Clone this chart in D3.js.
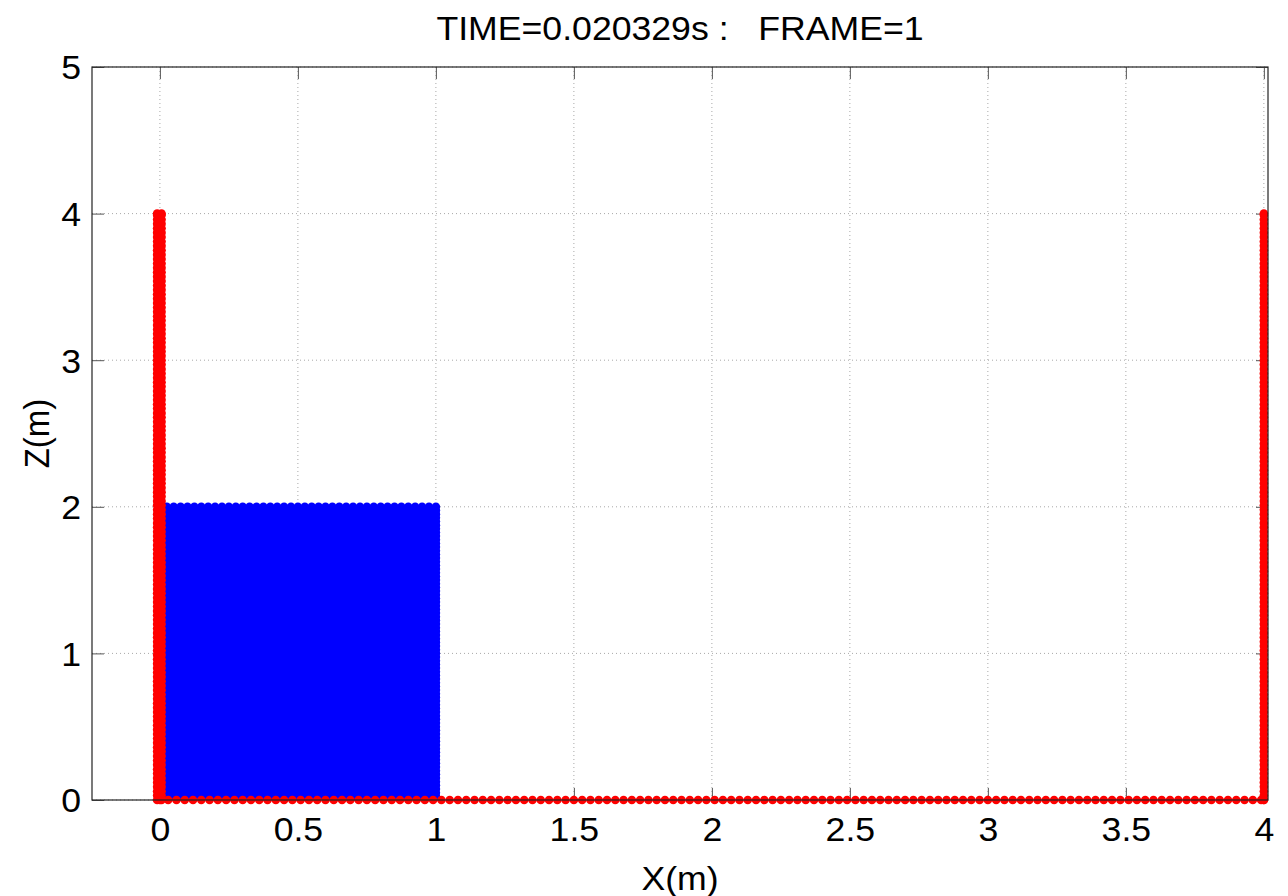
<!DOCTYPE html>
<html>
<head>
<meta charset="utf-8">
<script src="https://cdn.jsdelivr.net/npm/d3@7"></script>
<style>
  body { margin: 0; background: #fff; }
  svg { font-family: "Liberation Sans", Arial, sans-serif; }
  .tick text { font-size: 33px; fill: #000; }
  .tick line { stroke: #555; }
</style>
</head>
<body>
<div id="chart-area"></div>
<script>
// particle lattice (metres)
const fluidX = [0.025, 0.05, 0.075, 0.1, 0.125, 0.15, 0.175, 0.2, 0.225, 0.25, 0.275, 0.3, 0.325, 0.35, 0.375, 0.4,
  0.425, 0.45, 0.475, 0.5, 0.525, 0.55, 0.575, 0.6, 0.625, 0.65, 0.675, 0.7, 0.725, 0.75, 0.775, 0.8, 0.825, 0.85,
  0.875, 0.9, 0.925, 0.95, 0.975, 1.0];
const fluidZ = [0.025, 0.05, 0.075, 0.1, 0.125, 0.15, 0.175, 0.2, 0.225, 0.25, 0.275, 0.3, 0.325, 0.35, 0.375, 0.4,
  0.425, 0.45, 0.475, 0.5, 0.525, 0.55, 0.575, 0.6, 0.625, 0.65, 0.675, 0.7, 0.725, 0.75, 0.775, 0.8, 0.825, 0.85,
  0.875, 0.9, 0.925, 0.95, 0.975, 1.0, 1.025, 1.05, 1.075, 1.1, 1.125, 1.15, 1.175, 1.2, 1.225, 1.25, 1.275, 1.3,
  1.325, 1.35, 1.375, 1.4, 1.425, 1.45, 1.475, 1.5, 1.525, 1.55, 1.575, 1.6, 1.625, 1.65, 1.675, 1.7, 1.725, 1.75,
  1.775, 1.8, 1.825, 1.85, 1.875, 1.9, 1.925, 1.95, 1.975, 2.0];
const wallPos = [0, 0.03, 0.06, 0.09, 0.12, 0.15, 0.18, 0.21, 0.24, 0.27, 0.3, 0.33, 0.36, 0.39, 0.42, 0.45, 0.48,
  0.51, 0.54, 0.57, 0.6, 0.63, 0.66, 0.69, 0.72, 0.75, 0.78, 0.81, 0.84, 0.87, 0.9, 0.93, 0.96, 0.99, 1.02, 1.05,
  1.08, 1.11, 1.14, 1.17, 1.2, 1.23, 1.26, 1.29, 1.32, 1.35, 1.38, 1.41, 1.44, 1.47, 1.5, 1.53, 1.56, 1.59, 1.62,
  1.65, 1.68, 1.71, 1.74, 1.77, 1.8, 1.83, 1.86, 1.89, 1.92, 1.95, 1.98, 2.01, 2.04, 2.07, 2.1, 2.13, 2.16, 2.19,
  2.22, 2.25, 2.28, 2.31, 2.34, 2.37, 2.4, 2.43, 2.46, 2.49, 2.52, 2.55, 2.58, 2.61, 2.64, 2.67, 2.7, 2.73, 2.76,
  2.79, 2.82, 2.85, 2.88, 2.91, 2.94, 2.97, 3.0, 3.03, 3.06, 3.09, 3.12, 3.15, 3.18, 3.21, 3.24, 3.27, 3.3, 3.33,
  3.36, 3.39, 3.42, 3.45, 3.48, 3.51, 3.54, 3.57, 3.6, 3.63, 3.66, 3.69, 3.72, 3.75, 3.78, 3.81, 3.84, 3.87, 3.9,
  3.93, 3.96, 3.99, 4.0];
const leftWallX = [-0.01, 0.006];
const rightWallX = [4.0];
const floorZ = [0];

const xTicks = [0, 0.5, 1, 1.5, 2, 2.5, 3, 3.5, 4];
const zTicks = [0, 1, 2, 3, 4, 5];
const xDomain = [-0.246, 4.015];
const zDomain = [0, 5];

const titleText = "TIME=0.020329s :   FRAME=1";
const xLabel = "X(m)";
const zLabel = "Z(m)";

const chartSize = { width: 1288, height: 896 };
const margin = { left: 92, right: 20, top: 67, bottom: 96 };
const width = chartSize.width - margin.left - margin.right;
const height = chartSize.height - margin.top - margin.bottom;
const fontSize = 33;
// the original lettering runs a little wider than Liberation Sans
const stretch = 1.08;

const x = d3.scaleLinear().domain(xDomain).range([0, width]);
const y = d3.scaleLinear().domain(zDomain).range([height, 0]);

const svg = d3
  .select("#chart-area")
  .append("svg")
  .attr("width", chartSize.width)
  .attr("height", chartSize.height);

const g = svg.append("g").attr("transform", `translate(${margin.left},${margin.top})`);

// dotted grid
g.append("g")
  .selectAll("line")
  .data(xTicks)
  .join("line")
  .attr("x1", d => x(d))
  .attr("x2", d => x(d))
  .attr("y1", 0)
  .attr("y2", height)
  .attr("stroke", "#a8a8a8")
  .attr("stroke-dasharray", "1,3");

g.append("g")
  .selectAll("line")
  .data(zTicks)
  .join("line")
  .attr("x1", 0)
  .attr("x2", width)
  .attr("y1", d => y(d))
  .attr("y2", d => y(d))
  .attr("stroke", "#a8a8a8")
  .attr("stroke-dasharray", "1,3");

// axes with inward ticks
const bottomAxis = g.append("g")
  .attr("transform", `translate(0,${height})`)
  .call(d3.axisBottom(x).tickValues(xTicks).tickFormat(d3.format("")).tickSize(-12).tickPadding(18));
const leftAxis = g.append("g")
  .call(d3.axisLeft(y).tickValues(zTicks).tickFormat(d3.format("")).tickSize(-12));
g.append("g")
  .call(d3.axisTop(x).tickValues(xTicks).tickFormat("").tickSize(-12));
g.append("g")
  .attr("transform", `translate(${width},0)`)
  .call(d3.axisRight(y).tickValues(zTicks).tickFormat("").tickSize(-12));
g.selectAll(".domain").remove();
bottomAxis.selectAll("text")
  .attr("dy", "0.71em")
  .attr("transform", `scale(${stretch},1)`);
leftAxis.selectAll("text")
  .attr("x", -11 / stretch)
  .attr("dy", "0.36em")
  .attr("transform", `scale(${stretch},1)`);

// particles
const r = 4.3;
const fluid = fluidX.flatMap(px => fluidZ.map(pz => ({ x: px, z: pz })));
const boundary = [
  ...leftWallX.flatMap(px => wallPos.map(pz => ({ x: px, z: pz }))),
  ...rightWallX.flatMap(px => wallPos.map(pz => ({ x: px, z: pz }))),
  ...floorZ.flatMap(pz => wallPos.map(px => ({ x: px, z: pz })))
];

g.append("g")
  .selectAll("circle")
  .data(fluid)
  .join("circle")
  .attr("cx", d => x(d.x))
  .attr("cy", d => y(d.z))
  .attr("r", r)
  .attr("fill", "#0000ff");

g.append("g")
  .selectAll("circle")
  .data(boundary)
  .join("circle")
  .attr("cx", d => x(d.x))
  .attr("cy", d => y(d.z))
  .attr("r", r)
  .attr("fill", "#ff0000");

// box
g.append("rect")
  .attr("width", width)
  .attr("height", height)
  .attr("fill", "none")
  .attr("stroke", "#222")
  .attr("stroke-width", 1.2);

// labels
svg.append("text")
  .attr("transform", `translate(${margin.left + width / 2},40) scale(${stretch},1)`)
  .attr("text-anchor", "middle")
  .attr("font-size", fontSize)
  .style("white-space", "pre")
  .text(titleText);

svg.append("text")
  .attr("transform", `translate(${margin.left + width / 2},890) scale(${stretch},1)`)
  .attr("text-anchor", "middle")
  .attr("font-size", fontSize)
  .text(xLabel);

svg.append("text")
  .attr("transform", `translate(49,${margin.top + height / 2}) rotate(-90) scale(1,${stretch})`)
  .attr("text-anchor", "middle")
  .attr("font-size", fontSize)
  .text(zLabel);
</script>
</body>
</html>
